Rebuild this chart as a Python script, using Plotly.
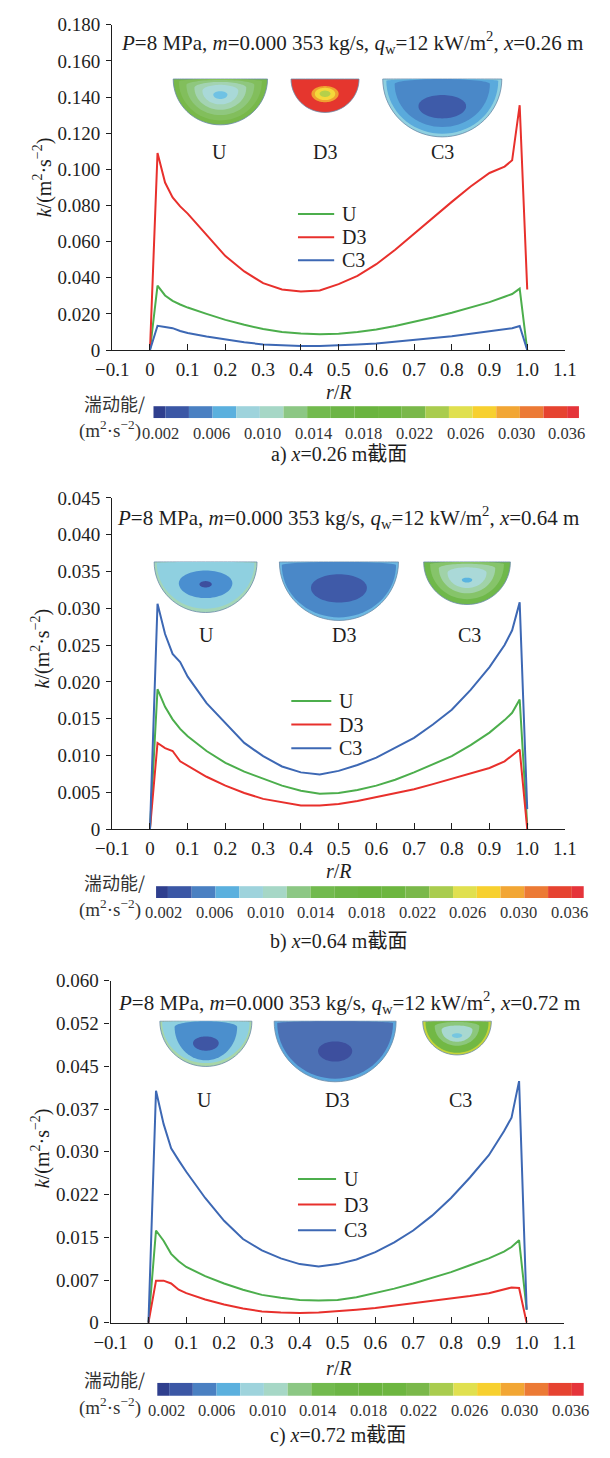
import math
import plotly.graph_objects as go

# ---------------- data ----------------
R_GRID = [0, 0.02, 0.04, 0.06, 0.08, 0.1, 0.15, 0.2, 0.25, 0.3, 0.35, 0.4, 0.45,
          0.5, 0.55, 0.6, 0.65, 0.7, 0.75, 0.8, 0.85, 0.9, 0.94, 0.96, 0.98, 1.0]

A_U = [0, 0.0357, 0.0302, 0.0272, 0.0252, 0.0235, 0.0200, 0.0167, 0.0140, 0.0116, 0.0100, 0.0091, 0.0088,
       0.0090, 0.0100, 0.0114, 0.0133, 0.0155, 0.0180, 0.0206, 0.0235, 0.0265, 0.0295, 0.0310, 0.0340, 0.0]
A_D3 = [0, 0.1090, 0.0927, 0.0845, 0.0795, 0.0755, 0.0637, 0.0520, 0.0435, 0.0370, 0.0335, 0.0324, 0.0330,
        0.0365, 0.0410, 0.0475, 0.0555, 0.0645, 0.0730, 0.0820, 0.0905, 0.0980, 0.1015, 0.1050, 0.1355, 0.0335]
A_C3 = [0, 0.0134, 0.0128, 0.0121, 0.0105, 0.0094, 0.0075, 0.0058, 0.0043, 0.0031, 0.0025, 0.0022, 0.0022,
        0.0025, 0.0030, 0.0036, 0.0045, 0.0054, 0.0065, 0.0076, 0.0090, 0.0103, 0.0115, 0.0121, 0.0133, 0.0]

B_U = [0, 0.0190, 0.0166, 0.0149, 0.0136, 0.0126, 0.0106, 0.0090, 0.0078, 0.0068, 0.0059, 0.0052, 0.0048,
       0.0049, 0.0053, 0.0059, 0.0067, 0.0077, 0.0088, 0.0099, 0.0114, 0.0131, 0.0148, 0.0158, 0.0176, 0.0005]
B_D3 = [0, 0.0117, 0.0110, 0.0106, 0.0092, 0.0086, 0.0071, 0.0059, 0.0049, 0.0041, 0.0036, 0.0032, 0.0032,
        0.0034, 0.0038, 0.0043, 0.0048, 0.0054, 0.0061, 0.0068, 0.0075, 0.0083, 0.0092, 0.0100, 0.0108, 0.0]
B_C3 = [0, 0.0306, 0.0265, 0.0238, 0.0227, 0.0207, 0.0171, 0.0144, 0.0117, 0.0099, 0.0085, 0.0077, 0.0074,
        0.0079, 0.0087, 0.0097, 0.0110, 0.0124, 0.0142, 0.0162, 0.0189, 0.0220, 0.0250, 0.0270, 0.0308, 0.0027]

C_U = [0, 0.0162, 0.0144, 0.0121, 0.0108, 0.0098, 0.0082, 0.0069, 0.0058, 0.0049, 0.0044, 0.0040, 0.0039,
       0.0040, 0.0045, 0.0052, 0.0060, 0.0069, 0.0079, 0.0089, 0.0101, 0.0113, 0.0125, 0.0133, 0.0145, 0.0023]
C_D3 = [0, 0.0074, 0.0074, 0.0069, 0.0058, 0.0052, 0.0041, 0.0032, 0.0025, 0.0020, 0.0018, 0.0017, 0.0018,
        0.0020, 0.0023, 0.0026, 0.0030, 0.0035, 0.0039, 0.0043, 0.0047, 0.0052, 0.0058, 0.0062, 0.0061, 0.0]
C_C3 = [0, 0.0407, 0.0349, 0.0306, 0.0285, 0.0265, 0.0219, 0.0179, 0.0147, 0.0127, 0.0113, 0.0103, 0.0099,
        0.0103, 0.0111, 0.0124, 0.0141, 0.0162, 0.0188, 0.0219, 0.0255, 0.0294, 0.0336, 0.0360, 0.0424, 0.0023]

SERIES_NAMES = ["U", "D3", "C3"]
SERIES_COLORS = ["#4cae4c", "#e8302c", "#3d68b4"]

X_TICKVALS = [-0.1, 0, 0.1, 0.2, 0.3, 0.4, 0.5, 0.6, 0.7, 0.8, 0.9, 1.0, 1.1]
X_TICKTEXT = ["\u22120.1", "0", "0.1", "0.2", "0.3", "0.4", "0.5", "0.6", "0.7", "0.8", "0.9", "1.0", "1.1"]

A_YTICKVALS = [0, 0.02, 0.04, 0.06, 0.08, 0.10, 0.12, 0.14, 0.16, 0.18]
A_YTICKTEXT = ["0", "0.020", "0.040", "0.060", "0.080", "0.100", "0.120", "0.140", "0.160", "0.180"]
B_YTICKVALS = [0, 0.005, 0.010, 0.015, 0.020, 0.025, 0.030, 0.035, 0.040, 0.045]
B_YTICKTEXT = ["0", "0.005", "0.010", "0.015", "0.020", "0.025", "0.030", "0.035", "0.040", "0.045"]
C_YTICKVALS = [0, 0.0075, 0.015, 0.0225, 0.030, 0.0375, 0.045, 0.0525, 0.060]
C_YTICKTEXT = ["0", "0.007", "0.015", "0.022", "0.030", "0.037", "0.045", "0.052", "0.060"]

CBAR_COLORS = ["#2f3f8e", "#3b57a5", "#4a80c2", "#5bb0de", "#9ed3dc", "#a6d7c6", "#8cc784",
               "#72ba4e", "#6cb545", "#6ab43f", "#6db640", "#7ab84a", "#a9cc4e", "#e0e04f",
               "#f7d02f", "#f2a634", "#ec7a35", "#e64330", "#e5343a"]
CBAR_LABELS = ["0.002", "0.006", "0.010", "0.014", "0.018", "0.022", "0.026", "0.030", "0.036"]

TITLE_X = ["0.26", "0.64", "0.72"]
CAPTIONS = ["a) <i>x</i>=0.26 m截面", "b) <i>x</i>=0.64 m截面", "c) <i>x</i>=0.72 m截面"]

# ---------------- layout helpers ----------------
W, H = 610, 1458
SERIF = "Liberation Serif, Times New Roman, Noto Sans CJK SC, serif"
INK = "#1e1e1e"


def px(x):
    return x / W


def py(y):
    return 1 - y / H


PANELS = [
    dict(x0=100, x1=575.3, ytop=15, ybot=345, yr=[0, 0.18], tv=A_YTICKVALS, tt=A_YTICKTEXT,
         data=[A_U, A_D3, A_C3], title_y=33, title_cx=352, ylab=(27, 170),
         leg=(295, 333, [207, 230.5, 254]),
         cb=(143.3, 590, 402, 414), cbl=(151, 53.3, 430), cap=(338, 451),
         rR=388, cbtitle=(399, 426)),
    dict(x0=100, x1=575.3, ytop=495, ybot=831, yr=[0, 0.045], tv=B_YTICKVALS, tt=B_YTICKTEXT,
         data=[B_U, B_D3, B_C3], title_y=515, title_cx=347, ylab=(25, 648),
         leg=(288, 330, [701, 725, 749]),
         cb=(146, 595, 889, 901), cbl=(154, 53.2, 916), cap=(338, 945),
         rR=874, cbtitle=(885, 912)),
    dict(x0=98.3, x1=574.8, ytop=985, ybot=1332, yr=[0, 0.06], tv=C_YTICKVALS, tt=C_YTICKTEXT,
         data=[C_U, C_D3, C_C3], title_y=1007, title_cx=349, ylab=(25, 1155),
         leg=(295, 335, [1186, 1212, 1238]),
         cb=(147.3, 595, 1393, 1406), cbl=(156.7, 53.0, 1421), cap=(337, 1446),
         rR=1378, cbtitle=(1389, 1417)),
]

# contour thumbnails: (cx, top, R, layers[(rx, cy, rtop, rbot, color)] in fractions of R)
THUMBS = [
    [  # panel a
        (213.5, 70, 49.5, [(1.0, 0, 0, 0.94, "#78b84a"), (0.88, 0.05, 0.05, 0.80, "#82be5c"),
                           (0.72, 0.12, 0.10, 0.62, "#8fc77e"), (0.55, 0.18, 0.12, 0.45, "#a3d3b2"),
                           (0.38, 0.24, 0.12, 0.28, "#a9d9d8"), (0.15, 0.32, 0.07, 0.09, "#6fc2e4")]),
        (323.4, 70, 35.7, [(1.0, 0, 0, 0.95, "#e5362e"), (0.40, 0.42, 0.22, 0.24, "#f0a030"),
                           (0.30, 0.42, 0.17, 0.18, "#f5d83a"), (0.16, 0.42, 0.09, 0.09, "#b5d04a")]),
        (446.5, 70, 62.5, [(1.0, 0, 0, 0.94, "#8fd0e0"), (0.94, 0.03, 0.03, 0.86, "#5aaadc"),
                           (0.80, 0.08, 0.08, 0.70, "#4a88c8"), (0.40, 0.44, 0.18, 0.20, "#3e5ba9")]),
    ],
    [  # panel b
        (198, 560, 54, [(1.0, 0, 0, 0.95, "#a4d6b8"), (0.95, 0.02, 0.02, 0.86, "#8fd0e0"),
                        (0.52, 0.40, 0.24, 0.28, "#4a8fd0"), (0.12, 0.42, 0.06, 0.06, "#3d4f9e")]),
        (338, 560, 62.5, [(1.0, 0, 0, 0.95, "#6cb8e2"), (0.96, 0.05, 0.05, 0.85, "#4a88c8"),
                          (0.47, 0.42, 0.22, 0.24, "#3f5aa8")]),
        (472.5, 560, 45.5, [(1.0, 0, 0, 0.95, "#6fb84a"), (0.85, 0.05, 0.05, 0.78, "#86c46a"),
                            (0.65, 0.14, 0.10, 0.56, "#a0d2a8"), (0.45, 0.24, 0.12, 0.34, "#aad9d8"),
                            (0.12, 0.40, 0.05, 0.06, "#5ab4e0")]),
    ],
    [  # panel c
        (198.3, 1026, 48.3, [(1.0, 0, 0, 0.95, "#a8d6a8"), (0.95, 0.02, 0.02, 0.86, "#8ed0e0"),
                             (0.68, 0.12, 0.12, 0.70, "#4b8fcd"), (0.28, 0.46, 0.14, 0.16, "#3f56a4")]),
        (334, 1026, 64, [(1.0, 0, 0, 0.96, "#5aa6dc"), (0.95, 0.03, 0.03, 0.88, "#4c70b4"),
                         (0.28, 0.47, 0.15, 0.17, "#3d4f9e")]),
        (462, 1026, 36, [(1.0, 0, 0, 0.95, "#c4d43a"), (0.92, 0.03, 0.03, 0.86, "#72b844"),
                         (0.65, 0.14, 0.12, 0.55, "#8cc77c"), (0.45, 0.24, 0.12, 0.34, "#a8d8d0"),
                         (0.15, 0.40, 0.06, 0.07, "#76c6e0")]),
    ],
]
THUMB_LABEL_Y = [144, 634, 1106]
THUMB_LABEL_X = [[213, 323, 447], [199, 343, 475], [197, 336, 466]]


def egg_path(cx, top, R, rx, cyf, rtop, rbot):
    cy = top + cyf * R
    pts = []
    n = 72
    for i in range(n):
        t = 2 * math.pi * i / n
        s = math.sin(t)
        x = cx + rx * R * math.cos(t)
        y = cy + (rbot if s > 0 else rtop) * R * s
        pts.append((px(x), py(y)))
    return "M " + " L ".join(f"{a:.5f},{b:.5f}" for a, b in pts) + " Z"


def note(text, x, y, size, xanchor="center", family=SERIF, color=INK, angle=0):
    return dict(text=text, x=px(x), y=py(y), xref="paper", yref="paper", showarrow=False,
                xanchor=xanchor, yanchor="middle", textangle=angle,
                font=dict(family=family, size=size, color=color))


fig = go.Figure()
shapes = []
annotations = []
layout_axes = {}

for i, p in enumerate(PANELS):
    n = i + 1
    xa = "x" if n == 1 else f"x{n}"
    ya = "y" if n == 1 else f"y{n}"
    for name, color, vals in zip(SERIES_NAMES, SERIES_COLORS, p["data"]):
        fig.add_trace(go.Scatter(x=R_GRID, y=vals, mode="lines", name=name,
                                 line=dict(color=color, width=2), xaxis=xa, yaxis=ya,
                                 showlegend=False, cliponaxis=False))
    xkey = "xaxis" if n == 1 else f"xaxis{n}"
    ykey = "yaxis" if n == 1 else f"yaxis{n}"
    layout_axes[xkey] = dict(domain=[px(p["x0"]), px(p["x1"])], range=[-0.1, 1.1], anchor=ya,
                             tickvals=X_TICKVALS, ticktext=X_TICKTEXT, ticks="inside", ticklen=6,
                             tickwidth=1.2, tickcolor=INK, showline=True, linecolor=INK,
                             linewidth=1.4, showgrid=False, zeroline=False, ticklabelstandoff=2,
                             tickfont=dict(family=SERIF, size=19, color=INK))
    layout_axes[ykey] = dict(domain=[py(p["ybot"]), py(p["ytop"])], range=p["yr"], anchor=xa,
                             tickvals=p["tv"], ticktext=p["tt"], ticks="outside", ticklen=5,
                             tickwidth=1.2, tickcolor=INK, showline=True, linecolor=INK,
                             linewidth=1.4, showgrid=False, zeroline=False, ticklabelstandoff=2,
                             tickfont=dict(family=SERIF, size=19, color=INK))

    # legend (line samples + labels)
    lx0, lx1, lys = p["leg"]
    for name, color, ly in zip(SERIES_NAMES, SERIES_COLORS, lys):
        shapes.append(dict(type="line", xref="paper", yref="paper", x0=px(lx0), x1=px(lx1),
                           y0=py(ly), y1=py(ly), line=dict(color=color, width=2)))
        annotations.append(note(name, lx1 + 6, ly, 20, xanchor="left"))

    # parameter line
    annotations.append(note(
        f"<i>P</i>=8 MPa, <i>m</i>=0.000 353 kg/s, <i>q</i><sub>w</sub>=12 kW/m<sup>2</sup>, <i>x</i>={TITLE_X[i]} m",
        p["title_cx"], p["title_y"], 21))
    # axis titles
    annotations.append(note("<i>k</i>/(m<sup>2</sup>·s<sup>−2</sup>)", p["ylab"][0], p["ylab"][1], 20, angle=-90))
    annotations.append(note("<i>r</i>/<i>R</i>", 338, p["rR"], 20))
    # colour bar
    cx0, cx1, cy0, cy1 = p["cb"]
    nseg = len(CBAR_COLORS) - 1
    step = (cx1 - cx0) / nseg
    for k, c in enumerate(CBAR_COLORS):
        a = cx0 if k == 0 else cx0 + (k - 0.5) * step
        b = cx1 if k == len(CBAR_COLORS) - 1 else cx0 + (k + 0.5) * step
        shapes.append(dict(type="rect", xref="paper", yref="paper", x0=px(a), x1=px(b),
                           y0=py(cy1), y1=py(cy0), fillcolor=c, line=dict(width=0), layer="above"))
    lb0, lstep, lby = p["cbl"]
    for k, lab in enumerate(CBAR_LABELS):
        annotations.append(note(lab, lb0 + k * lstep, lby, 16.5, color="#333"))
    t1, t2 = p["cbtitle"]
    annotations.append(note("湍动能/", 136, t1, 18, xanchor="right", family="Noto Sans CJK SC", color="#333"))
    annotations.append(note("(m<sup>2</sup>·s<sup>−2</sup>)", 132, t2, 19, xanchor="right", color="#333"))
    # caption
    annotations.append(note(CAPTIONS[i], p["cap"][0], p["cap"][1], 20))
    # thumbnails
    for j, (tcx, ttop, tR, layers) in enumerate(THUMBS[i]):
        for li, (rx, cyf, rtop, rbot, col) in enumerate(layers):
            shapes.append(dict(type="path", xref="paper", yref="paper",
                               path=egg_path(tcx, ttop, tR, rx, cyf, rtop, rbot),
                               fillcolor=col,
                               line=dict(width=0.8 if li == 0 else 0, color="#6a8aa8"),
                               layer="above"))
        annotations.append(note(SERIES_NAMES[j], THUMB_LABEL_X[i][j], THUMB_LABEL_Y[i], 20))

fig.update_layout(width=W, height=H, margin=dict(l=0, r=0, t=0, b=0),
                  paper_bgcolor="white", plot_bgcolor="white", showlegend=False,
                  shapes=shapes, annotations=annotations, **layout_axes)

fig.write_html("out.html")
